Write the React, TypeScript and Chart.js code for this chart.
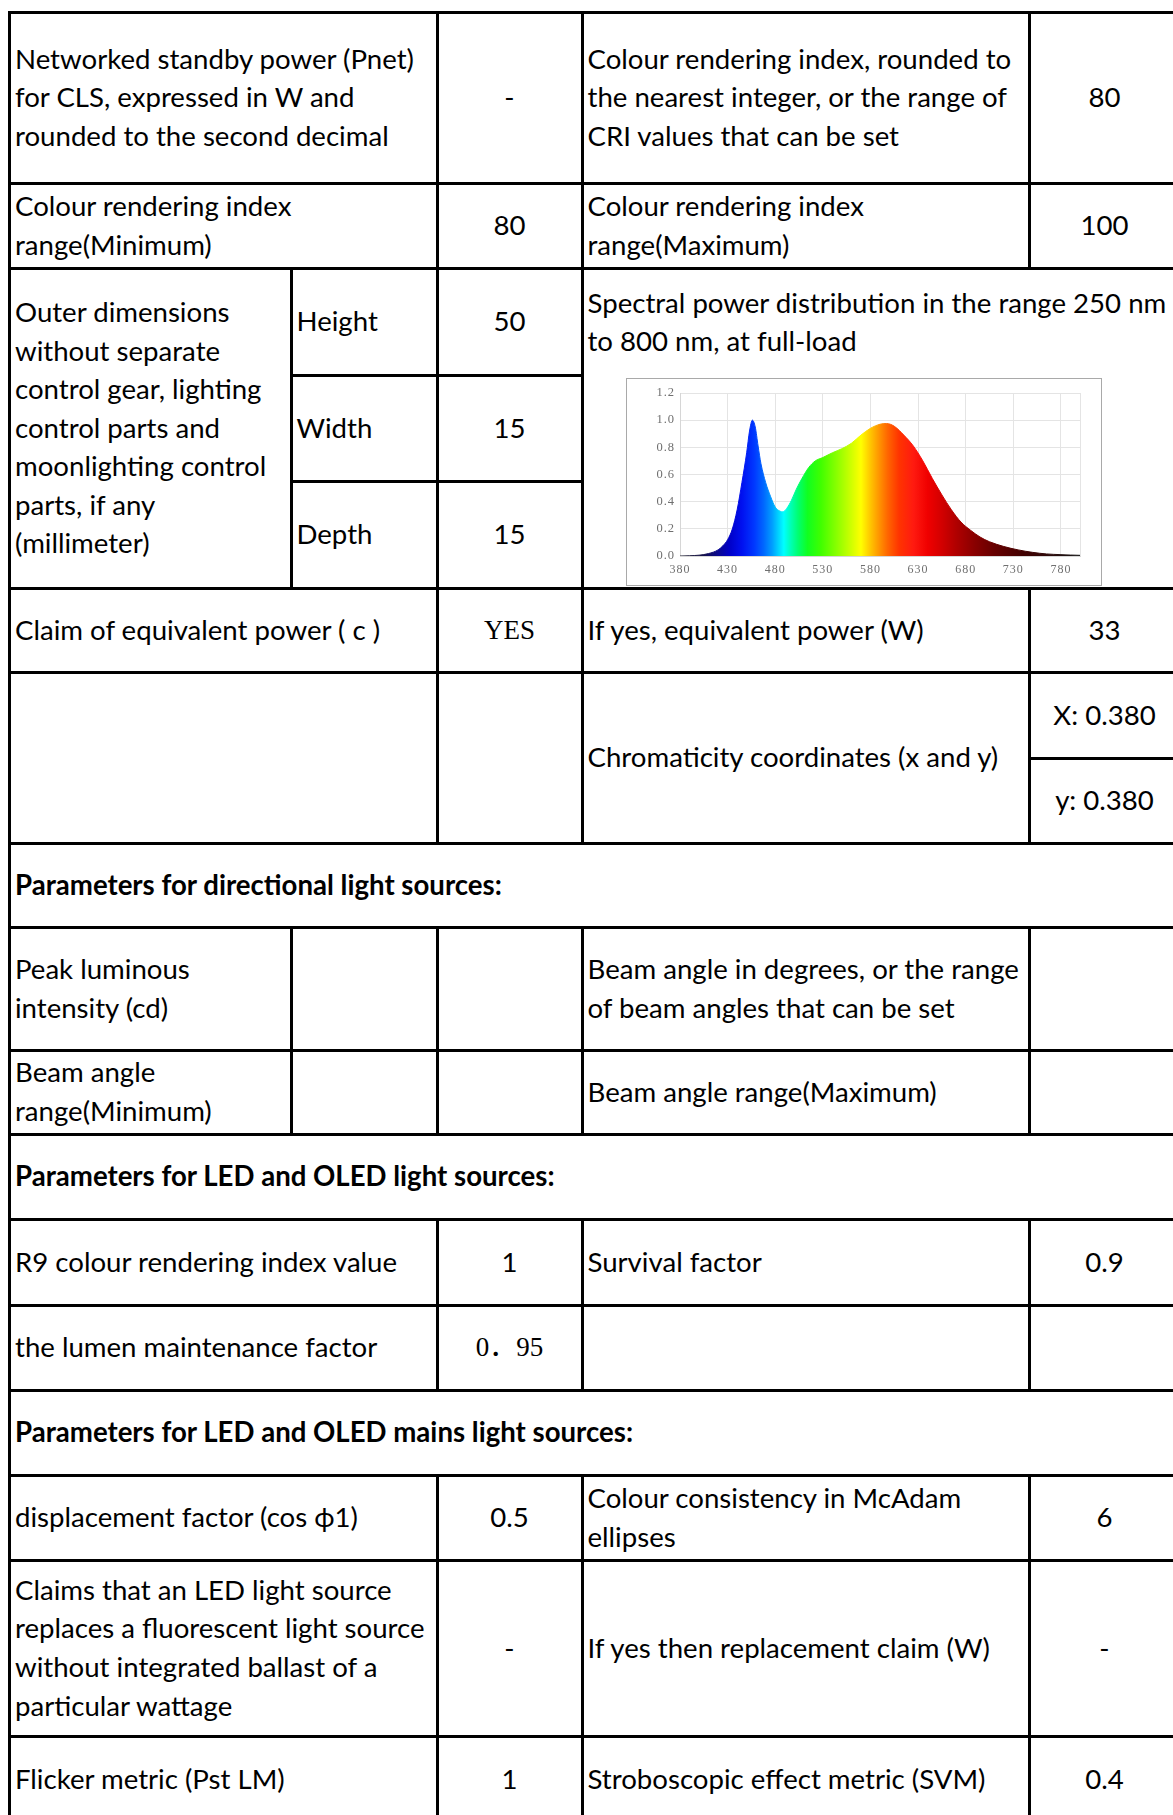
import React, { useEffect, useRef } from 'react';
import { Chart, registerables } from 'chart.js';

Chart.register(...registerables);

// ---------- Spectrum data ----------
const wavelengths = [
  380, 390, 400, 410, 420, 425, 430, 435, 440, 445, 450, 453, 456, 459, 462, 465, 470, 475, 480, 485,
  488, 492, 497, 502, 508, 515, 522, 530, 540, 550, 560, 570, 580, 590, 597, 605, 615, 625, 635, 645,
  655, 665, 675, 685, 695, 705, 720, 735, 750, 765, 780, 790, 800,
];
const intensity = [
  0.0, 0.002, 0.006, 0.018, 0.045, 0.075, 0.12, 0.2, 0.34, 0.54, 0.76, 0.92, 1.0, 0.95, 0.81, 0.68, 0.54, 0.44, 0.36, 0.33,
  0.325, 0.35, 0.41, 0.49, 0.57, 0.65, 0.7, 0.725, 0.76, 0.79, 0.83, 0.89, 0.94, 0.97, 0.975, 0.955, 0.89, 0.81, 0.7, 0.57,
  0.45, 0.34, 0.25, 0.19, 0.14, 0.105, 0.07, 0.045, 0.027, 0.015, 0.01, 0.007, 0.005,
];
const xTickValues = [380, 430, 480, 530, 580, 630, 680, 730, 780, 800];
const xTickLabels = ['380', '430', '480', '530', '580', '630', '680', '730', '780', ''];
const xMin = 380;
const xMax = 800;
const yMax = 1.2;
const yStep = 0.2;

// spectral colour stops (wavelength, colour)
const spectrumStopNm = [
  380, 405, 420, 432, 445, 458, 468, 477, 484, 489, 496, 504, 514, 528, 545, 560, 570, 578, 588, 598,
  610, 625, 640, 655, 670, 690, 710, 740, 780, 800,
];
const spectrumStopColor = [
  '#2a2a3a', '#14104a', '#0a0890', '#0000c8', '#0010f0', '#0038ff', '#0068ff', '#00a0ff', '#00d8ff', '#00ffff',
  '#00ffb8', '#00ff70', '#10ff20', '#40ff00', '#8cff00', '#d0ff00', '#ffff00', '#ffd000', '#ff9a00', '#ff6600',
  '#ff3400', '#ff1a10', '#f00000', '#d20000', '#b00000', '#880000', '#660000', '#420000', '#241010', '#181818',
];

// ---------- Table content ----------
const COLS = [9.5, 291, 437, 582, 1029, 1180];
const ROWS = [12, 183, 268, 375, 481, 588, 672, 758, 843, 927, 1050, 1134, 1219, 1305, 1390, 1475, 1560, 1736, 1822];

type CellDef = { c: [number, number]; r: [number, number]; t: string; center?: boolean; bold?: boolean; serif?: boolean; top?: boolean };

const cells: CellDef[] = [
  { c: [0, 2], r: [0, 1], t: 'Networked standby power (Pnet)\nfor CLS, expressed in W and\nrounded to the second decimal' },
  { c: [2, 3], r: [0, 1], t: '-', center: true },
  { c: [3, 4], r: [0, 1], t: 'Colour rendering index, rounded to\nthe nearest integer, or the range of\nCRI values that can be set' },
  { c: [4, 5], r: [0, 1], t: '80', center: true },
  { c: [0, 2], r: [1, 2], t: 'Colour rendering index\nrange(Minimum)' },
  { c: [2, 3], r: [1, 2], t: '80', center: true },
  { c: [3, 4], r: [1, 2], t: 'Colour rendering index\nrange(Maximum)' },
  { c: [4, 5], r: [1, 2], t: '100', center: true },
  { c: [0, 1], r: [2, 5], t: 'Outer dimensions\nwithout separate\ncontrol gear, lighting\ncontrol parts and\nmoonlighting control\nparts, if any\n(millimeter)' },
  { c: [1, 2], r: [2, 3], t: 'Height' },
  { c: [2, 3], r: [2, 3], t: '50', center: true },
  { c: [1, 2], r: [3, 4], t: 'Width' },
  { c: [2, 3], r: [3, 4], t: '15', center: true },
  { c: [1, 2], r: [4, 5], t: 'Depth' },
  { c: [2, 3], r: [4, 5], t: '15', center: true },
  { c: [3, 5], r: [2, 5], t: 'Spectral power distribution in the range 250 nm\nto 800 nm, at full-load', top: true },
  { c: [0, 2], r: [5, 6], t: 'Claim of equivalent power ( c )' },
  { c: [2, 3], r: [5, 6], t: 'YES', center: true, serif: true },
  { c: [3, 4], r: [5, 6], t: 'If yes, equivalent power (W)' },
  { c: [4, 5], r: [5, 6], t: '33', center: true },
  { c: [0, 2], r: [6, 8], t: '' },
  { c: [2, 3], r: [6, 8], t: '' },
  { c: [3, 4], r: [6, 8], t: 'Chromaticity coordinates (x and y)' },
  { c: [4, 5], r: [6, 7], t: 'X: 0.380', center: true },
  { c: [4, 5], r: [7, 8], t: 'y: 0.380', center: true },
  { c: [0, 5], r: [8, 9], t: 'Parameters for directional light sources:', bold: true },
  { c: [0, 1], r: [9, 10], t: 'Peak luminous\nintensity (cd)' },
  { c: [1, 2], r: [9, 10], t: '' },
  { c: [2, 3], r: [9, 10], t: '' },
  { c: [3, 4], r: [9, 10], t: 'Beam angle in degrees, or the range\nof beam angles that can be set' },
  { c: [4, 5], r: [9, 10], t: '' },
  { c: [0, 1], r: [10, 11], t: 'Beam angle\nrange(Minimum)' },
  { c: [1, 2], r: [10, 11], t: '' },
  { c: [2, 3], r: [10, 11], t: '' },
  { c: [3, 4], r: [10, 11], t: 'Beam angle range(Maximum)' },
  { c: [4, 5], r: [10, 11], t: '' },
  { c: [0, 5], r: [11, 12], t: 'Parameters for LED and OLED light sources:', bold: true },
  { c: [0, 2], r: [12, 13], t: 'R9 colour rendering index value' },
  { c: [2, 3], r: [12, 13], t: '1', center: true },
  { c: [3, 4], r: [12, 13], t: 'Survival factor' },
  { c: [4, 5], r: [12, 13], t: '0.9', center: true },
  { c: [0, 2], r: [13, 14], t: 'the lumen maintenance factor' },
  { c: [2, 3], r: [13, 14], t: '0\uFF0E95', center: true, serif: true },
  { c: [3, 4], r: [13, 14], t: '' },
  { c: [4, 5], r: [13, 14], t: '' },
  { c: [0, 5], r: [14, 15], t: 'Parameters for LED and OLED mains light sources:', bold: true },
  { c: [0, 2], r: [15, 16], t: 'displacement factor (cos \u03D51)' },
  { c: [2, 3], r: [15, 16], t: '0.5', center: true },
  { c: [3, 4], r: [15, 16], t: 'Colour consistency in McAdam\nellipses' },
  { c: [4, 5], r: [15, 16], t: '6', center: true },
  { c: [0, 2], r: [16, 17], t: 'Claims that an LED light source\nreplaces a fluorescent light source\nwithout integrated ballast of a\nparticular wattage' },
  { c: [2, 3], r: [16, 17], t: '-', center: true },
  { c: [3, 4], r: [16, 17], t: 'If yes then replacement claim (W)' },
  { c: [4, 5], r: [16, 17], t: '-', center: true },
  { c: [0, 2], r: [17, 18], t: 'Flicker metric (Pst LM)' },
  { c: [2, 3], r: [17, 18], t: '1', center: true },
  { c: [3, 4], r: [17, 18], t: 'Stroboscopic effect metric (SVM)' },
  { c: [4, 5], r: [17, 18], t: '0.4', center: true },
];

const BORDER = 3;
const SANS = 'Lato, "Noto Sans", sans-serif';
const SERIF = '"Liberation Serif", "Noto Sans CJK SC", serif';

function Cell({ d }: { d: CellDef }) {
  const x0 = COLS[d.c[0]];
  const x1 = COLS[d.c[1]];
  const y0 = ROWS[d.r[0]];
  const y1 = ROWS[d.r[1]];
  return (
    <div
      style={{
        position: 'absolute',
        left: x0 - BORDER / 2,
        top: y0 - BORDER / 2,
        width: x1 - x0 + BORDER,
        height: y1 - y0 + BORDER,
        border: `${BORDER}px solid #000`,
        boxSizing: 'border-box',
        display: 'flex',
        alignItems: d.top ? 'flex-start' : 'center',
        justifyContent: d.center ? 'center' : 'flex-start',
        padding: d.top ? '14px 4px 0 4px' : '0 4px',
        whiteSpace: 'pre',
        lineHeight: '38.6px',
        fontSize: d.serif ? 27 : 27.6,
        fontWeight: d.bold ? 700 : 400,
        fontFamily: d.serif ? SERIF : SANS,
        color: '#000',
        background: '#fff',
      }}
    >
      {d.t}
    </div>
  );
}

const letterSpacingPlugin = {
  id: 'tickLetterSpacing',
  beforeDraw(chart: any) {
    try {
      (chart.ctx as any).letterSpacing = '1px';
    } catch (e) {
      /* ignore */
    }
  },
};

function SpectrumChart() {
  const ref = useRef<HTMLCanvasElement | null>(null);
  useEffect(() => {
    if (!ref.current) return;
    const makeGradient = (chart: any) => {
      const { ctx, chartArea, scales } = chart;
      if (!chartArea || !scales.x) return '#888';
      const xa = scales.x.getPixelForValue(xMin);
      const xb = scales.x.getPixelForValue(xMax);
      const g = ctx.createLinearGradient(xa, 0, xb, 0);
      spectrumStopNm.forEach((nm, i) => {
        g.addColorStop((nm - xMin) / (xMax - xMin), spectrumStopColor[i]);
      });
      return g;
    };
    const chart = new Chart(ref.current, {
      type: 'line',
      data: {
        datasets: [
          {
            data: wavelengths.map((w, i) => ({ x: w, y: intensity[i] })),
            fill: 'origin',
            pointRadius: 0,
            borderWidth: 1,
            cubicInterpolationMode: 'monotone',
            backgroundColor: (c: any) => makeGradient(c.chart),
            borderColor: (c: any) => makeGradient(c.chart),
          },
        ],
      },
      plugins: [letterSpacingPlugin],
      options: {
        animation: false,
        responsive: false,
        maintainAspectRatio: false,
        layout: { padding: { top: 14, right: 21, left: 0, bottom: 0 } },
        plugins: { legend: { display: false }, tooltip: { enabled: false }, title: { display: false } },
        scales: {
          x: {
            type: 'linear',
            min: xMin,
            max: xMax,
            afterBuildTicks: (axis: any) => {
              axis.ticks = xTickValues.map((v) => ({ value: v }));
            },
            afterFit: (axis: any) => {
              axis.height = 29;
            },
            grid: { color: '#e4e4e4', lineWidth: 1, drawTicks: false },
            border: { display: true, color: '#d6d6d6' },
            ticks: {
              autoSkip: false,
              maxRotation: 0,
              padding: 7,
              color: '#6f6f6f',
              font: { family: 'Liberation Serif', size: 12 },
              callback: (v: any) => {
                const i = xTickValues.indexOf(Number(v));
                return i >= 0 ? xTickLabels[i] : '';
              },
            },
          },
          y: {
            type: 'linear',
            min: 0,
            max: yMax,
            afterFit: (axis: any) => {
              axis.width = 53;
            },
            grid: { color: '#e4e4e4', lineWidth: 1, drawTicks: false },
            border: { display: true, color: '#d6d6d6' },
            ticks: {
              stepSize: yStep,
              padding: 5,
              color: '#6f6f6f',
              font: { family: 'Liberation Serif', size: 12.5 },
              callback: (v: any) => Number(v).toFixed(1),
            },
          },
        },
      },
    } as any);
    return () => chart.destroy();
  }, []);
  return (
    <div
      style={{
        position: 'absolute',
        left: 626,
        top: 378,
        width: 476,
        height: 208,
        border: '1px solid #a9a9a9',
        boxSizing: 'border-box',
        background: '#fff',
      }}
    >
      <canvas ref={ref} width={474} height={206} style={{ width: 474, height: 206, display: 'block' }} />
    </div>
  );
}

export default function App() {
  return (
    <div
      style={{
        position: 'absolute',
        left: 0,
        top: 0,
        width: 1173,
        height: 1815,
        overflow: 'hidden',
        background: '#fff',
      }}
    >
      {cells.map((d, i) => (
        <Cell key={i} d={d} />
      ))}
      <SpectrumChart />
    </div>
  );
}
